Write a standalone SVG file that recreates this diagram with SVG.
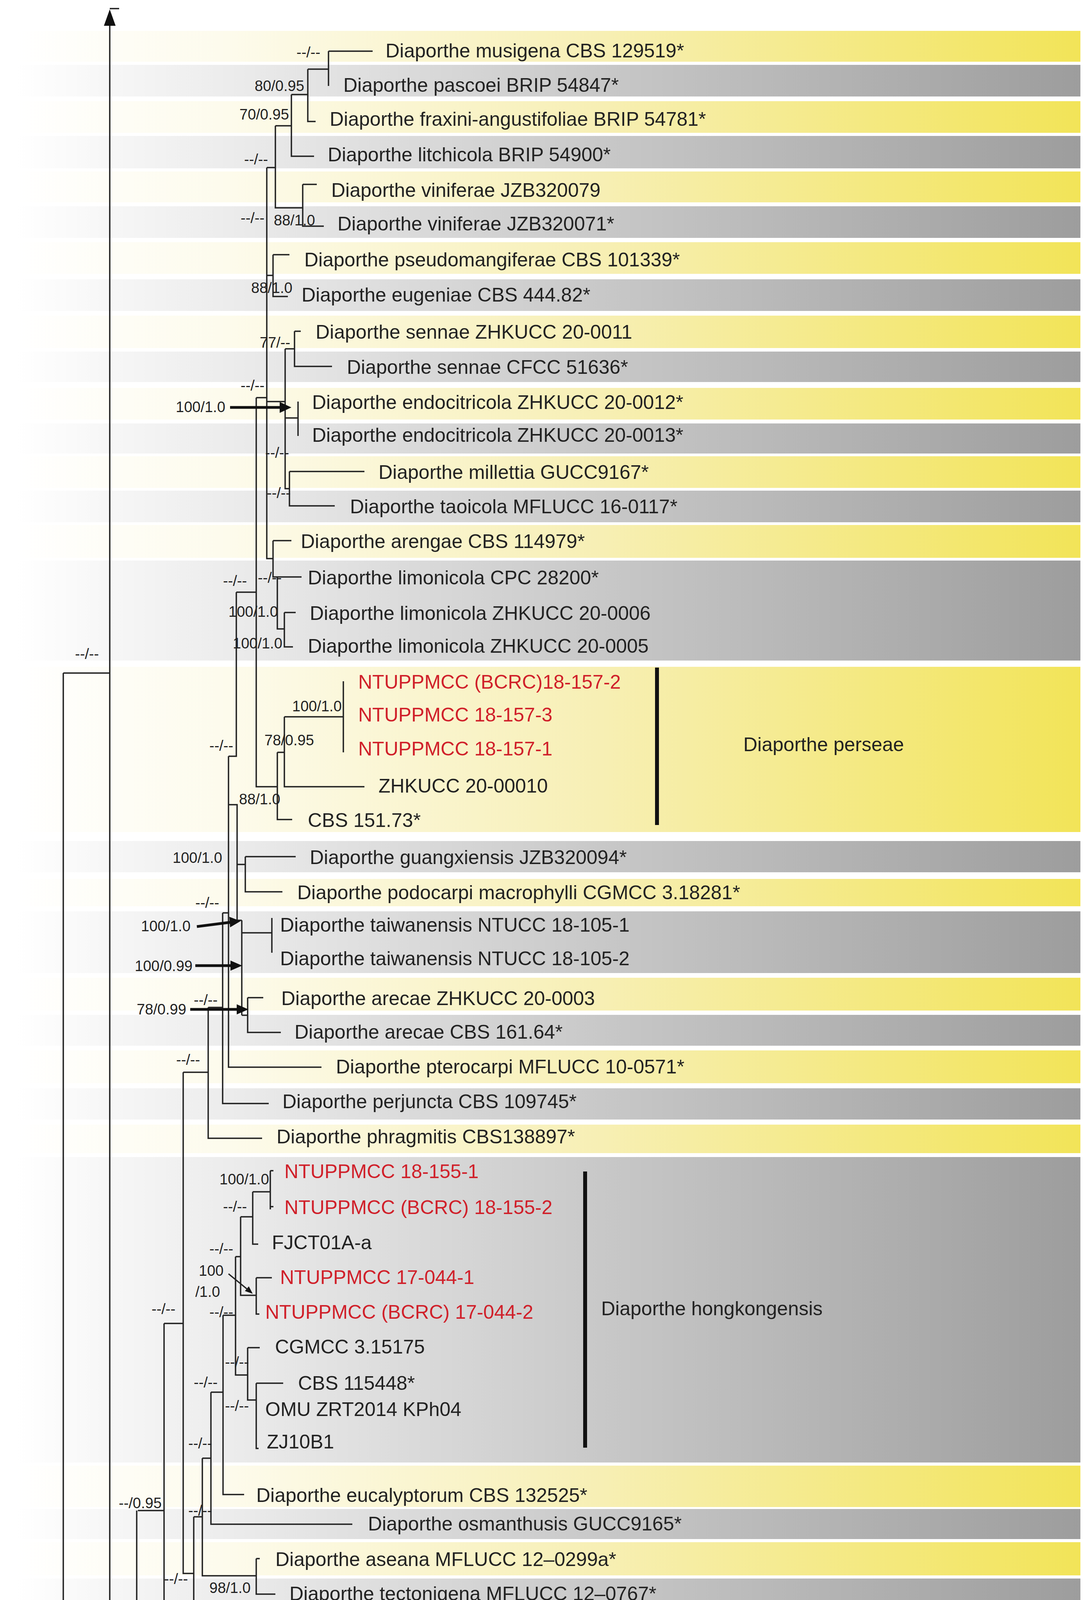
<svg xmlns="http://www.w3.org/2000/svg" width="2788" height="5007" viewBox="0 0 2788 5007">
<defs>
<linearGradient id="gy" x1="0" y1="0" x2="1" y2="0"><stop offset="0" stop-color="#ffffff"/><stop offset="0.2" stop-color="#fdfbec"/><stop offset="0.55" stop-color="#f7efb4"/><stop offset="1" stop-color="#f2e458"/></linearGradient>
<linearGradient id="gg" x1="0" y1="0" x2="1" y2="0"><stop offset="0" stop-color="#ffffff"/><stop offset="0.2" stop-color="#ececec"/><stop offset="0.55" stop-color="#c8c8c8"/><stop offset="1" stop-color="#9d9d9d"/></linearGradient>
</defs>
<style>
.y{fill:url(#gy)}.g{fill:url(#gg)}
.t{font-family:"Liberation Sans Narrow","Liberation Sans",Arial,sans-serif;font-size:50px;fill:#222}
.r{fill:#d0202a}
.s{font-family:"Liberation Sans Narrow","Liberation Sans",Arial,sans-serif;font-size:38px;fill:#222}
.br{fill:none;stroke:#222;stroke-width:3.5}
.ar{fill:none;stroke:#111;stroke-width:7}
.hd{fill:#111}
.bar{stroke:#111;stroke-width:10}
</style>
<rect width="2788" height="5007" fill="#fff"/>
<g id="bands">
<rect class="y" x="40" y="79" width="2726" height="79"/>
<rect class="g" x="40" y="166" width="2726" height="81"/>
<rect class="y" x="40" y="259" width="2726" height="81"/>
<rect class="g" x="40" y="348" width="2726" height="83"/>
<rect class="y" x="40" y="439" width="2726" height="79"/>
<rect class="g" x="40" y="528" width="2726" height="81"/>
<rect class="y" x="40" y="620" width="2726" height="81"/>
<rect class="g" x="40" y="715" width="2726" height="81"/>
<rect class="y" x="40" y="808" width="2726" height="83"/>
<rect class="g" x="40" y="900" width="2726" height="78"/>
<rect class="y" x="40" y="993" width="2726" height="81"/>
<rect class="g" x="40" y="1084" width="2726" height="77"/>
<rect class="y" x="40" y="1168" width="2726" height="81"/>
<rect class="g" x="40" y="1256" width="2726" height="81"/>
<rect class="y" x="40" y="1344" width="2726" height="84"/>
<rect class="g" x="40" y="1435" width="2726" height="256"/>
<rect class="y" x="40" y="1707" width="2726" height="423"/>
<rect class="g" x="40" y="2153" width="2726" height="80"/>
<rect class="y" x="40" y="2250" width="2726" height="70"/>
<rect class="g" x="40" y="2333" width="2726" height="158"/>
<rect class="y" x="40" y="2503" width="2726" height="84"/>
<rect class="g" x="40" y="2598" width="2726" height="79"/>
<rect class="y" x="40" y="2689" width="2726" height="84"/>
<rect class="g" x="40" y="2786" width="2726" height="80"/>
<rect class="y" x="40" y="2879" width="2726" height="73"/>
<rect class="g" x="40" y="2962" width="2726" height="782"/>
<rect class="y" x="40" y="3752" width="2726" height="106"/>
<rect class="g" x="40" y="3863" width="2726" height="77"/>
<rect class="y" x="40" y="3948" width="2726" height="85"/>
<rect class="g" x="40" y="4041" width="2726" height="81"/>
<rect class="y" x="40" y="4129" width="2726" height="131"/>
<rect class="g" x="40" y="4266" width="2726" height="85"/>
<rect class="y" x="40" y="4356" width="2726" height="93"/>
<rect class="g" x="40" y="4462" width="2726" height="88"/>
<rect class="y" x="40" y="4557" width="2726" height="276"/>
</g>
<g id="connectors">
<path class="br" d="M281 60V4867H290 M290 4587V4955 M162 1723V4955 M162 1723H281 M350 3867V4955 M353 3867H420 M350 4702H564 M290 4587H350
M841 131H954 M841 131V220 M788 177H841 M788 177V311H808 M746 242H788 M746 242V400H804 M705 322H746 M705 322V532H775
M775 472H811 M775 472V579H829 M683 429H705 M683 429V1430H699 M699 652H741 M699 652V759H737 M683 705H699
M754 848H770 M754 848V938H850 M730 893H754 M730 893V1251H741 M683 1018H656 M683 1028H730 M730 1070H763 M763 1028V1116
M741 1207H933 M741 1207V1295H857
M699 1384H746 M699 1384V1477H710 M710 1477H772 M710 1477V1610H728 M728 1568H757 M728 1568V1656H750
M656 1018V2014H710 M710 1926V2098H748 M710 1926H728 M728 1835V2014H933 M728 1835H879 M879 1744V1926
M656 1516H605 M605 1516V1936H585 M585 1936V2732H823
M585 2337H570 M570 2337V2825H688 M585 2060H607V2356H619 M628 2193H757 M628 2193V2283H723 M607 2213H628
M619 2356V2599 M619 2388H696 M696 2350V2439 M619 2599H634 M634 2554H674 M634 2554V2643H719
M533 2579V2914H671 M533 2579H570 M469 2745H533 M469 2745V4028H496
M692 2997V3096 M692 2997H700 M692 3089H700 M647 3051H692 M647 3051V3185H661 M616 3115H647 M616 3115V3316H656 M656 3271H696 M656 3271V3364H664
M603 3217H616 M603 3217V3520H634 M634 3450H665 M634 3450V3584H656 M656 3541H725 M656 3541V3708H662
M571 3367H603 M571 3367V3826H625 M540 3564H571 M540 3564V3902H902 M518 3733H540 M518 3733V4034H656 M656 3990H665 M656 3990V4081H705
M496 3883H518 M496 3883V4172H576 M420 3388H469 M420 3388V4432H449 M449 4319H786 M449 4319V4499H734 M449 4411H705
M281 22H305"/>
<path class="hd" d="M281 24L266 66H296Z M162 4998L146 4952H178Z M290 4998L274 4952H306Z M350 4998L334 4952H366Z"/>
<path class="ar" d="M589 1043H720 M504 2372L590 2361 M500 2472H594 M487 2584H610"/>
<path class="hd" d="M746 1043L716 1029V1057Z M616 2358L587 2347L589 2374Z M620 2472L590 2459V2485Z M636 2584L606 2571V2597Z M647 3312L627 3305L637 3293Z"/>
<path class="br" stroke-width="4" d="M585 3261L635 3302"/>
</g>
<g id="support">
<text class="s" x="759" y="147">--/--</text>
<text class="s" x="652" y="233">80/0.95</text>
<text class="s" x="613" y="306">70/0.95</text>
<text class="s" x="625" y="421">--/--</text>
<text class="s" x="616" y="571">--/--</text>
<text class="s" x="701" y="577">88/1.0</text>
<text class="s" x="643" y="750">88/1.0</text>
<text class="s" x="665" y="890">77/--</text>
<text class="s" x="616" y="1000">--/--</text>
<text class="s" x="450" y="1055">100/1.0</text>
<text class="s" x="679" y="1172">--/--</text>
<text class="s" x="683" y="1275">--/--</text>
<text class="s" x="571" y="1500">--/--</text>
<text class="s" x="660" y="1492">--/--</text>
<text class="s" x="585" y="1579">100/1.0</text>
<text class="s" x="596" y="1660">100/1.0</text>
<text class="s" x="192" y="1687">--/--</text>
<text class="s" x="748" y="1821">100/1.0</text>
<text class="s" x="677" y="1908">78/0.95</text>
<text class="s" x="536" y="1922">--/--</text>
<text class="s" x="612" y="2059">88/1.0</text>
<text class="s" x="442" y="2209">100/1.0</text>
<text class="s" x="500" y="2324">--/--</text>
<text class="s" x="361" y="2384">100/1.0</text>
<text class="s" x="345" y="2486">100/0.99</text>
<text class="s" x="350" y="2597">78/0.99</text>
<text class="s" x="496" y="2573">--/--</text>
<text class="s" x="451" y="2726">--/--</text>
<text class="s" x="562" y="3032">100/1.0</text>
<text class="s" x="571" y="3102">--/--</text>
<text class="s" x="536" y="3210">--/--</text>
<text class="s" x="509" y="3266">100</text>
<text class="s" x="500" y="3320">/1.0</text>
<text class="s" x="536" y="3372">--/--</text>
<text class="s" x="388" y="3364">--/--</text>
<text class="s" x="576" y="3500">--/--</text>
<text class="s" x="496" y="3552">--/--</text>
<text class="s" x="576" y="3612">--/--</text>
<text class="s" x="482" y="3708">--/--</text>
<text class="s" x="304" y="3861">--/0.95</text>
<text class="s" x="482" y="3880">--/--</text>
<text class="s" x="420" y="4055">--/--</text>
<text class="s" x="536" y="4078">98/1.0</text>
<text class="s" x="295" y="4183">--/--</text>
<text class="s" x="370" y="4472">--/--</text>
<text class="s" x="89" y="4577">--/--</text>
<text class="s" x="281" y="4570">--/--</text>
<text class="s" x="214" y="4897">--/--</text>
</g>
<g id="taxa">
<text class="t" x="987" y="147">Diaporthe musigena CBS 129519*</text>
<text class="t" x="879" y="235">Diaporthe pascoei BRIP 54847*</text>
<text class="t" x="844" y="322">Diaporthe fraxini-angustifoliae BRIP 54781*</text>
<text class="t" x="839" y="413">Diaporthe litchicola BRIP 54900*</text>
<text class="t" x="848" y="504">Diaporthe viniferae JZB320079</text>
<text class="t" x="864" y="590">Diaporthe viniferae  JZB320071*</text>
<text class="t" x="779" y="682">Diaporthe pseudomangiferae CBS 101339*</text>
<text class="t" x="772" y="772">Diaporthe eugeniae CBS 444.82*</text>
<text class="t" x="808" y="867">Diaporthe sennae ZHKUCC 20-0011</text>
<text class="t" x="888" y="957">Diaporthe sennae CFCC 51636*</text>
<text class="t" x="799" y="1047">Diaporthe endocitricola ZHKUCC 20-0012*</text>
<text class="t" x="799" y="1131">Diaporthe endocitricola ZHKUCC 20-0013*</text>
<text class="t" x="969" y="1226">Diaporthe millettia GUCC9167*</text>
<text class="t" x="896" y="1314">Diaporthe taoicola   MFLUCC 16-0117*</text>
<text class="t" x="770" y="1403">Diaporthe arengae CBS 114979*</text>
<text class="t" x="788" y="1496">Diaporthe limonicola CPC 28200*</text>
<text class="t" x="793" y="1587">Diaporthe limonicola  ZHKUCC 20-0006</text>
<text class="t" x="788" y="1671">Diaporthe limonicola  ZHKUCC 20-0005</text>
<text class="t r" x="917" y="1763">NTUPPMCC (BCRC)18-157-2</text>
<text class="t r" x="917" y="1847">NTUPPMCC 18-157-3</text>
<text class="t r" x="917" y="1934">NTUPPMCC 18-157-1</text>
<text class="t" x="969" y="2029">ZHKUCC 20-00010</text>
<text class="t" x="788" y="2117">CBS 151.73*</text>
<text class="t" x="793" y="2212">Diaporthe guangxiensis JZB320094*</text>
<text class="t" x="761" y="2302">Diaporthe podocarpi macrophylli  CGMCC 3.18281*</text>
<text class="t" x="717" y="2385">Diaporthe taiwanensis NTUCC 18-105-1</text>
<text class="t" x="717" y="2471">Diaporthe taiwanensis NTUCC 18-105-2</text>
<text class="t" x="720" y="2573">Diaporthe arecae ZHKUCC 20-0003</text>
<text class="t" x="754" y="2659">Diaporthe arecae CBS 161.64*</text>
<text class="t" x="860" y="2748">Diaporthe pterocarpi  MFLUCC 10-0571*</text>
<text class="t" x="723" y="2837">Diaporthe perjuncta CBS 109745*</text>
<text class="t" x="708" y="2927">Diaporthe phragmitis CBS138897*</text>
<text class="t r" x="728" y="3016">NTUPPMCC 18-155-1</text>
<text class="t r" x="728" y="3108">NTUPPMCC (BCRC) 18-155-2</text>
<text class="t" x="696" y="3198">FJCT01A-a</text>
<text class="t r" x="717" y="3287">NTUPPMCC 17-044-1</text>
<text class="t r" x="679" y="3376">NTUPPMCC (BCRC) 17-044-2</text>
<text class="t" x="704" y="3465">CGMCC 3.15175</text>
<text class="t" x="763" y="3558">CBS 115448*</text>
<text class="t" x="679" y="3625">OMU ZRT2014 KPh04</text>
<text class="t" x="683" y="3708">ZJ10B1</text>
<text class="t" x="656" y="3845">Diaporthe eucalyptorum CBS 132525*</text>
<text class="t" x="942" y="3918">Diaporthe osmanthusis GUCC9165*</text>
<text class="t" x="705" y="4009">Diaporthe aseana MFLUCC 12–0299a*</text>
<text class="t" x="741" y="4097">Diaporthe tectonigena  MFLUCC 12–0767*</text>
<text class="t" x="614" y="4188">Diaporthe xishuangbanica CGMCC 3.18282*</text>
<text class="t" x="823" y="4336">Diaporthe vawdreyi BRIP 57887a*</text>
<text class="t" x="741" y="4427">Diaporthe undulata CGMCC 3.18293*</text>
<text class="t" x="772" y="4512">Diaporthe biconispora  ZJUD62*</text>
<text class="t" x="596" y="4721">Diaporthe multigutullata  ZJUD98*</text>
</g>
<g id="clades">
<line class="bar" x1="1682" y1="1709" x2="1682" y2="2112"/>
<text class="t" x="1903" y="1923">Diaporthe perseae</text>
<line class="bar" x1="1498" y1="2999" x2="1498" y2="3706"/>
<text class="t" x="1539" y="3367">Diaporthe hongkongensis</text>
</g>
</svg>
